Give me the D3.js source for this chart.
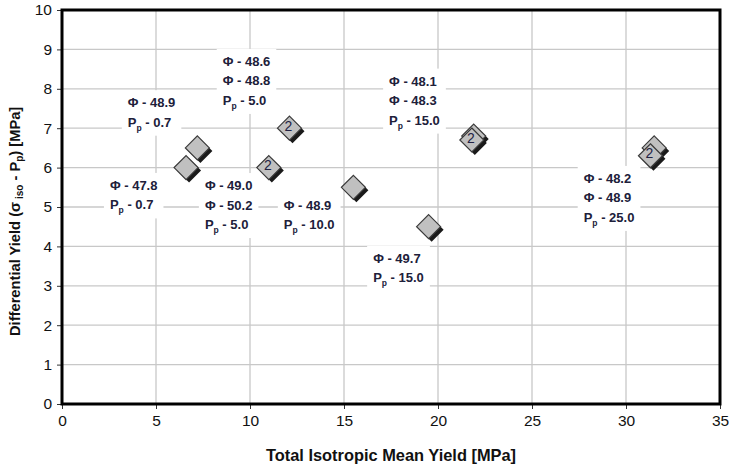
<!DOCTYPE html>
<html><head><meta charset="utf-8">
<script src="https://cdn.jsdelivr.net/npm/d3@7"></script>
<style>body{margin:0;background:#fff}svg{display:block}</style>
</head><body>
<script>
// ---- data ----
const xTicks = [0,5,10,15,20,25,30,35];
const yTicks = [0,1,2,3,4,5,6,7,8,9,10];
const pointX = [7.2, 6.6, 12.1, 11.0, 15.5, 19.5, 21.9, 21.8, 31.5, 31.3];
const pointY = [6.5, 6.0, 7.0, 6.0, 5.5, 4.5, 6.8, 6.7, 6.5, 6.3];
const pointTag = ["", "", "2", "2", "", "", "", "2", "", "2"];
const labelX = [3.5, 2.55, 8.55, 7.6, 11.8, 17.4, 16.55, 27.75];
const labelY = [7.4, 5.3, 8.2, 5.05, 4.8, 7.7, 3.45, 5.23];
const labelLines = [
  ["Φ - 48.9", "P|0.7"],
  ["Φ - 47.8", "P|0.7"],
  ["Φ - 48.6", "Φ - 48.8", "P|5.0"],
  ["Φ - 49.0", "Φ - 50.2", "P|5.0"],
  ["Φ - 48.9", "P|10.0"],
  ["Φ - 48.1", "Φ - 48.3", "P|15.0"],
  ["Φ - 49.7", "P|15.0"],
  ["Φ - 48.2", "Φ - 48.9", "P|25.0"]
];

const W = 729, H = 468;
const m = {left: 62, right: 9, top: 10, bottom: 64};
const svg = d3.select("body").append("svg").attr("width", W).attr("height", H)
  .style("font-family", "Arial, 'Liberation Sans', sans-serif");

const x = d3.scaleLinear().domain([0,35]).range([m.left, W - m.right]);
const y = d3.scaleLinear().domain([0,10]).range([H - m.bottom, m.top]);

// grid
svg.append("g").selectAll("line").data(xTicks.slice(1,-1)).join("line")
  .attr("x1", d=>x(d)).attr("x2", d=>x(d)).attr("y1", y(0)).attr("y2", y(10))
  .attr("stroke", "#c8c8c8").attr("stroke-width", 1.3);
svg.append("g").selectAll("line").data(yTicks.slice(1,-1)).join("line")
  .attr("y1", d=>y(d)).attr("y2", d=>y(d)).attr("x1", x(0)).attr("x2", x(35))
  .attr("stroke", "#c8c8c8").attr("stroke-width", 1.3);

// axes
const xa = svg.append("g").attr("transform", `translate(0,${y(0)})`)
  .call(d3.axisBottom(x).tickValues(xTicks).tickSize(5).tickPadding(6).tickSizeOuter(0));
const ya = svg.append("g").attr("transform", `translate(${x(0)},0)`)
  .call(d3.axisLeft(y).tickValues(yTicks).tickSize(5).tickPadding(5).tickSizeOuter(0));
[xa, ya].forEach(g => {
  g.select(".domain").remove();
  g.selectAll("text").attr("font-size", 15.5).attr("fill", "#111")
    .style("font-family", "Arial, 'Liberation Sans', sans-serif");
  g.selectAll("line").attr("stroke", "#333");
});

// frame
svg.append("rect").attr("x", x(0)).attr("y", y(10))
  .attr("width", x(35)-x(0)).attr("height", y(0)-y(10))
  .attr("fill", "none").attr("stroke", "#000").attr("stroke-width", 3);

// points
const pts = pointX.map((d,i)=>({x:d, y:pointY[i], t:pointTag[i]}));
const r = 12;
const diamond = `M0,${-r} L${r},0 L0,${r} L${-r},0 Z`;
const pg = svg.append("g").selectAll("g").data(pts).join("g")
  .attr("transform", d=>`translate(${x(d.x)},${y(d.y)})`);
pg.append("path").attr("d", diamond).attr("transform", "translate(3,3)").attr("fill", "#1a1a1a");
pg.append("path").attr("d", diamond).attr("fill", "#c0c0c0").attr("stroke", "#3a3a3a").attr("stroke-width", 1.2);
pg.filter(d=>d.t).append("text").text(d=>d.t)
  .attr("x", -1).attr("y", -1).attr("text-anchor", "middle").attr("dominant-baseline", "middle")
  .attr("font-size", 14).attr("fill", "#222244");

// labels
const lineH = 19.5;
labelLines.forEach((lines, i) => {
  const g = svg.append("g");
  const x0 = x(labelX[i]);
  const n = lines.length;
  const yc = y(labelY[i]);
  const yFirst = yc - (n-1)*lineH/2 + 4.5;
  const tg = g.append("g");
  lines.forEach((ln, j) => {
    const t = tg.append("text").attr("x", x0).attr("y", yFirst + j*lineH)
      .attr("font-size", 13).attr("font-weight", "bold").attr("fill", "#20203a");
    if (ln.startsWith("P|")) {
      t.append("tspan").text("P");
      t.append("tspan").text("p").attr("font-size", 8.5).attr("dy", 4);
      t.append("tspan").text(" - " + ln.slice(2)).attr("dy", -4);
    } else {
      t.text(ln);
    }
  });
  const bb = tg.node().getBBox();
  g.insert("rect", ":first-child").attr("x", bb.x - 6).attr("y", bb.y - 5)
    .attr("width", bb.width + 12).attr("height", bb.height + 8).attr("fill", "#fff");
});

// axis titles
svg.append("text").attr("x", (x(0)+x(35))/2).attr("y", 461).attr("text-anchor", "middle")
  .attr("font-size", 16.4).attr("font-weight", "bold").attr("fill", "#111")
  .text("Total Isotropic Mean Yield [MPa]");
const yt = svg.append("text").attr("transform", `translate(20,336) rotate(-90)`)
  .attr("text-anchor", "start").attr("font-size", 14.7).attr("font-weight", "bold").attr("fill", "#111");
yt.append("tspan").text("Differential Yield (σ");
yt.append("tspan").text(" iso").attr("font-size", 10).attr("dy", 3);
yt.append("tspan").text(" - P").attr("dy", -3);
yt.append("tspan").text("p").attr("font-size", 10).attr("dy", 3);
yt.append("tspan").text(") [MPa]").attr("dy", -3);
</script>
</body></html>
